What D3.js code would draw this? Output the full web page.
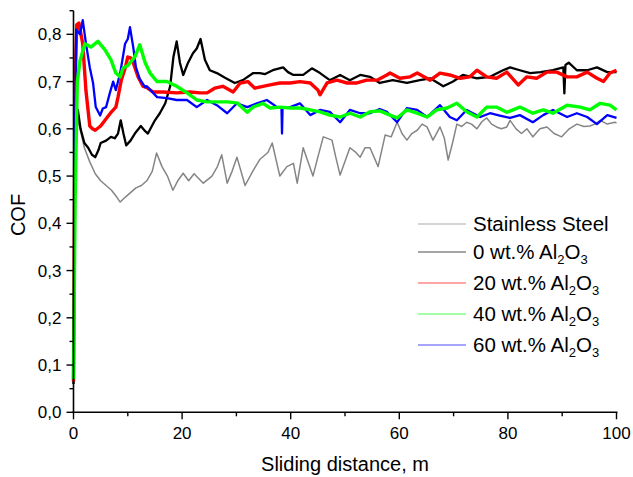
<!DOCTYPE html>
<html><head><meta charset="utf-8">
<script src="https://cdn.jsdelivr.net/npm/d3@7/dist/d3.min.js"></script>
<style>body{margin:0;background:#fff}svg{display:block}text{font-family:"Liberation Sans",Arial,sans-serif;fill:#000}</style>
</head><body><svg id="c" width="633" height="477"></svg>
<script>
// ---------- data (distance m, COF) ----------
const seriesNames = ["Stainless Steel", "0 wt.% Al2O3", "20 wt.% Al2O3", "40 wt.% Al2O3", "60 wt.% Al2O3"];
const seriesColors = ["#858585", "#000000", "#ff0000", "#00ff00", "#0000ff"];
const steel = [[0,0.06],[0.3,0.55],[0.8,0.62],[1.2,0.6],[2,0.56],[3,0.53],[4,0.505],[5,0.49],[6,0.48],[7,0.47],[8,0.455],[8.6,0.445],[9.5,0.455],[10.5,0.465],[11.5,0.475],[12.5,0.48],[13.5,0.49],[14.5,0.51],[15.3,0.549],[16.3,0.52],[17.3,0.5],[18.3,0.47],[19.2,0.49],[20.2,0.506],[21.2,0.49],[22.2,0.505],[23.9,0.485],[25.5,0.5],[26.5,0.52],[27.3,0.545],[28.3,0.485],[29.2,0.51],[30.1,0.54],[31.6,0.48],[33,0.51],[34.3,0.535],[35.8,0.55],[36.6,0.57],[38,0.5],[39.3,0.52],[40.5,0.527],[41.2,0.485],[42.3,0.56],[43.2,0.53],[44.1,0.5],[45,0.54],[46,0.583],[47.6,0.576],[48.3,0.54],[49.1,0.502],[50.9,0.56],[52,0.55],[52.8,0.54],[53.7,0.56],[54.6,0.56],[56.1,0.52],[57.4,0.587],[58.5,0.583],[59.6,0.614],[60.5,0.59],[61.4,0.576],[62.3,0.59],[63.3,0.597],[64.2,0.61],[65.1,0.604],[66.2,0.576],[67.5,0.604],[68.3,0.58],[69,0.534],[69.8,0.57],[70.6,0.61],[71.5,0.605],[72.4,0.614],[73.3,0.61],[74.3,0.6],[75.2,0.615],[76.1,0.623],[77,0.61],[77.9,0.604],[78.8,0.6],[79.8,0.604],[80.4,0.618],[81.5,0.6],[82.5,0.59],[83.5,0.6],[84.6,0.583],[85.9,0.6],[87.2,0.604],[88.5,0.59],[89.9,0.583],[91.3,0.6],[92.7,0.61],[94,0.605],[95.1,0.606],[96,0.61],[97,0.618],[98.3,0.61],[99.7,0.614],[100,0.612]];
const wt0 = [[0,0.06],[0.3,0.6],[0.8,0.64],[1.3,0.6],[2,0.57],[2.7,0.56],[3.4,0.545],[4,0.54],[4.6,0.555],[5,0.57],[6,0.575],[6.9,0.583],[7.6,0.58],[8.2,0.59],[8.7,0.618],[9.2,0.59],[9.7,0.565],[10.5,0.575],[11.3,0.59],[12.4,0.606],[13.2,0.595],[13.7,0.59],[15,0.618],[15.9,0.633],[16.9,0.654],[17.8,0.69],[18.4,0.752],[19,0.785],[19.6,0.74],[20.2,0.714],[21.1,0.74],[22,0.76],[22.7,0.77],[23.4,0.79],[24.2,0.746],[25.1,0.724],[26.4,0.718],[27.9,0.708],[29.7,0.697],[31.2,0.703],[33.1,0.718],[34.3,0.718],[35.3,0.716],[36.7,0.724],[38.6,0.73],[39.5,0.72],[40.5,0.714],[42.3,0.714],[43.9,0.728],[45.4,0.718],[47.2,0.703],[49.1,0.714],[50.9,0.703],[52.8,0.714],[54.6,0.71],[56.4,0.697],[58.8,0.703],[61.4,0.697],[63.8,0.703],[65.7,0.707],[68.1,0.69],[69.9,0.7],[71.7,0.714],[74.3,0.707],[76.7,0.71],[79.1,0.724],[80.4,0.73],[82.2,0.724],[84.1,0.718],[86,0.72],[88.3,0.724],[90.2,0.73],[90.4,0.675],[90.6,0.735],[91.2,0.74],[92.7,0.724],[94.6,0.724],[96.4,0.73],[98.3,0.72],[100,0.72]];
const wt20 = [[0,0.065],[0.3,0.7],[0.6,0.82],[1,0.824],[1.7,0.78],[2.3,0.68],[3,0.606],[3.5,0.6],[4,0.597],[5,0.606],[5.8,0.618],[6.4,0.627],[7,0.636],[7.8,0.646],[8.2,0.667],[8.8,0.703],[9.5,0.728],[10,0.752],[10.5,0.75],[11,0.74],[11.9,0.71],[12.8,0.69],[13.4,0.688],[14.6,0.678],[16.5,0.678],[19,0.676],[21.5,0.678],[23.3,0.676],[24.6,0.676],[26,0.686],[27.5,0.69],[29.4,0.678],[30.7,0.697],[32.1,0.7],[33.4,0.686],[34.9,0.69],[36.2,0.693],[38,0.697],[39.9,0.697],[41.7,0.7],[43.6,0.697],[45,0.682],[45.4,0.672],[46.7,0.697],[48.5,0.703],[50.4,0.697],[52.2,0.697],[54,0.703],[55.9,0.703],[57.7,0.714],[58.3,0.718],[60.1,0.707],[62,0.71],[63.3,0.718],[65.7,0.703],[67.5,0.718],[69.3,0.714],[71.2,0.707],[73,0.71],[74.3,0.724],[76.1,0.71],[77.9,0.707],[79.8,0.72],[81.9,0.693],[83.5,0.71],[85.3,0.707],[87.2,0.72],[89,0.72],[90.9,0.71],[92.7,0.71],[94.6,0.72],[96.4,0.707],[97.6,0.7],[98.8,0.718],[100,0.724]];
const wt40 = [[0,0.07],[0.3,0.45],[0.7,0.7],[1.2,0.744],[2.1,0.78],[3.2,0.773],[4.5,0.785],[5.8,0.767],[6.9,0.746],[7.8,0.718],[8.6,0.71],[9.1,0.728],[10,0.734],[11.3,0.752],[12.2,0.778],[13.2,0.74],[14.1,0.718],[15.4,0.7],[17.2,0.7],[19,0.69],[20.9,0.676],[22.7,0.661],[24.6,0.657],[26.4,0.657],[28.3,0.657],[30.1,0.655],[32,0.635],[33.1,0.646],[34.9,0.654],[36.2,0.644],[38,0.646],[39.9,0.644],[41.7,0.644],[43.6,0.64],[45.4,0.636],[47.2,0.629],[49.1,0.625],[50.9,0.633],[52.8,0.625],[54.6,0.636],[56.4,0.638],[58.3,0.629],[59.6,0.623],[61.4,0.64],[63.3,0.633],[65.1,0.625],[66.9,0.64],[68.8,0.644],[70.6,0.654],[72.4,0.636],[74.3,0.625],[76.1,0.646],[77.9,0.646],[79.8,0.635],[82.2,0.646],[84.6,0.633],[86.5,0.64],[88.3,0.633],[90.9,0.65],[93.3,0.646],[95.1,0.64],[97,0.654],[98.8,0.65],[100,0.64]];
const wt60 = [[0,0.07],[0.3,0.6],[0.5,0.81],[1.2,0.8],[1.7,0.83],[2.3,0.78],[3,0.73],[3.6,0.697],[4.1,0.646],[4.9,0.628],[5.4,0.643],[6,0.646],[6.7,0.676],[7.3,0.7],[7.8,0.682],[8.6,0.718],[9.5,0.78],[10,0.79],[10.4,0.815],[11,0.773],[11.5,0.73],[12.2,0.705],[13.2,0.688],[13.5,0.69],[15.4,0.667],[17.2,0.665],[19,0.661],[20.9,0.661],[22.7,0.646],[24.6,0.661],[26.4,0.65],[28.3,0.633],[30.1,0.654],[32,0.646],[33.8,0.654],[35.6,0.661],[37.5,0.646],[38.3,0.645],[38.4,0.59],[38.5,0.645],[39.9,0.646],[41.7,0.654],[43.6,0.629],[45.4,0.64],[47.2,0.636],[49.1,0.614],[50.9,0.64],[52.8,0.633],[54.6,0.633],[56.4,0.642],[57.7,0.636],[59.6,0.614],[61.4,0.644],[63.3,0.64],[65.1,0.625],[67.5,0.65],[69.3,0.625],[70.6,0.618],[72.4,0.64],[74.9,0.625],[76.7,0.633],[78.5,0.628],[80.4,0.623],[82.2,0.629],[84.6,0.614],[86.5,0.629],[88.3,0.64],[90.9,0.625],[92.7,0.633],[94.6,0.625],[96.4,0.61],[98.3,0.629],[100,0.623]];
const xTicks = [0, 20, 40, 60, 80, 100];
const yTicks = [0, 0.1, 0.2, 0.3, 0.4, 0.5, 0.6, 0.7, 0.8];
const xLabel = "Sliding distance, m";
const yLabel = "COF";

// ---------- layout ----------
const svg = d3.select("#c");
const x = d3.scaleLinear().domain([0, 100]).range([73.5, 616.5]);
const y = d3.scaleLinear().domain([0, 0.85]).range([412.3, 10.7]);
const fmt = v => d3.format(".1f")(v).replace(".", ",");

const allSeries = [steel, wt0, wt20, wt40, wt60];
const widths = [1.5, 2.3, 3.4, 3.4, 2.3];
const drawOrder = [0, 1, 2, 4, 3];
const line = d3.line().x(d => x(d[0])).y(d => y(d[1]));
drawOrder.forEach(i => {
  svg.append("path").datum(allSeries[i]).attr("d", line)
    .attr("fill", "none").attr("stroke", seriesColors[i])
    .attr("stroke-width", widths[i]).attr("stroke-linejoin", "round");
});

// axes
const xMinor = d3.range(10, 100, 20);
const yMinor = d3.range(0.05, 0.86, 0.1);
const gx = svg.append("g").attr("transform", `translate(0,${y(0)})`);
gx.append("line").attr("x1", x(0) - 1).attr("x2", x(100) + 1).attr("stroke", "#000").attr("stroke-width", 1.6);
gx.selectAll(".mj").data(xTicks).join("line").attr("x1", d => x(d)).attr("x2", d => x(d)).attr("y1", 0).attr("y2", 7).attr("stroke", "#000").attr("stroke-width", 1.4);
gx.selectAll(".mn").data(xMinor).join("line").attr("x1", d => x(d)).attr("x2", d => x(d)).attr("y1", 0).attr("y2", 4).attr("stroke", "#000").attr("stroke-width", 1.4);
gx.selectAll("text").data(xTicks).join("text").attr("x", d => x(d)).attr("y", 27).attr("text-anchor", "middle").attr("font-size", 17).text(d => d);

const gy = svg.append("g").attr("transform", `translate(${x(0)},0)`);
gy.append("line").attr("y1", y(0.85)).attr("y2", y(0) + 1).attr("stroke", "#000").attr("stroke-width", 1.6);
gy.selectAll(".mj").data(yTicks).join("line").attr("y1", d => y(d)).attr("y2", d => y(d)).attr("x1", 0).attr("x2", -7).attr("stroke", "#000").attr("stroke-width", 1.4);
gy.selectAll(".mn").data(yMinor).join("line").attr("y1", d => y(d)).attr("y2", d => y(d)).attr("x1", 0).attr("x2", -4).attr("stroke", "#000").attr("stroke-width", 1.4);
gy.selectAll("text").data(yTicks).join("text").attr("x", -12).attr("y", d => y(d) + 6).attr("text-anchor", "end").attr("font-size", 17).text(fmt);

svg.append("text").attr("x", 345).attr("y", 471).attr("text-anchor", "middle").attr("font-size", 20).text(xLabel);
svg.append("text").attr("transform", "translate(25,215) rotate(-90)").attr("text-anchor", "middle").attr("font-size", 20).text(yLabel);

// legend
const leg = svg.append("g");
const legY = [224, 252, 283, 314, 345];
seriesNames.forEach((name, i) => {
  const ly = legY[i];
  leg.append("line").attr("x1", 418).attr("x2", 466).attr("y1", ly).attr("y2", ly)
    .attr("stroke", seriesColors[i]).attr("stroke-width", 1).attr("opacity", 0.7);
  const t = leg.append("text").attr("x", 473).attr("y", ly + 7).attr("font-size", 20.5);
  const m = name.match(/^(.*)Al2O3$/);
  if (m) {
    t.append("tspan").text(m[1] + "Al");
    t.append("tspan").attr("font-size", 13).attr("dy", 5).text("2");
    t.append("tspan").attr("dy", -5).text("O");
    t.append("tspan").attr("font-size", 13).attr("dy", 5).text("3");
  } else t.text(name);
});
</script></body></html>
